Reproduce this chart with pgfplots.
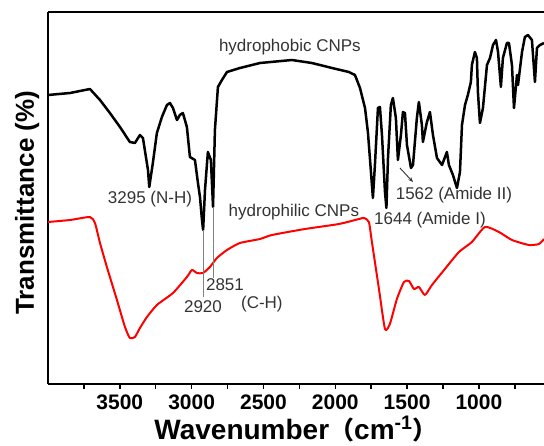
\documentclass[border=0pt]{standalone}
\usepackage{fontspec}
\setmainfont{Liberation Sans}
\newfontfamily\cjk{Noto Sans CJK SC}
\usepackage{pgfplots}
\pgfplotsset{compat=1.18}
\usetikzlibrary{calc,arrows.meta}

\begin{document}
\begin{tikzpicture}
\begin{axis}[
  width=496pt, height=372pt, scale only axis,
  xmin=547, xmax=4000, x dir=reverse, ymin=0, ymax=372,
  axis x line*=bottom, axis y line*=left,
  axis line style={line width=2pt},
  xtick={1000,1500,2000,2500,3000,3500},
  minor xtick={750,1250,1750,2250,2750,3250,3750},
  ytick=\empty,
  tick align=outside, major tick length=5pt, minor tick length=5pt,
  every tick/.style={line width=1.5pt, black},
  /pgf/number format/assume math mode=true,
  /pgf/number format/set thousands separator={},
  xticklabel style={font=\fontsize{21}{21}\selectfont\bfseries, anchor=base, yshift=-20pt},
  xlabel={Wavenumber{\cjk\bfseries\fontsize{25}{25}\selectfont （}cm\textsuperscript{-1}{\cjk\bfseries\fontsize{25}{25}\selectfont ）}},
  xlabel style={font=\fontsize{28}{28}\selectfont\bfseries, at={(axis description cs:0.5,0)}, anchor=base, yshift=-55pt},
  ylabel={Transmittance (\%)},
  ylabel style={font=\fontsize{26}{26}\selectfont\bfseries, at={(axis description cs:-0.042,0.487)}, anchor=center, rotate=0},
  line join=round,
]
\coordinate (LL) at (rel axis cs:0,0);
\coordinate (UR) at (rel axis cs:1,1);
\draw[line width=2pt] (rel axis cs:0,1) -- (rel axis cs:1,1);

% hydrophobic CNPs (black)
\addplot[black, line width=2.5pt] coordinates {
(4000,289) (3847,291) (3708,295) (3638,284) (3569,271) (3499,257) (3430,242)
(3395,241) (3360,249) (3339,246) (3304,214) (3295,197) (3270,221) (3242,251)
(3207,267) (3172,279) (3151,281) (3130,276) (3102,264) (3082,269) (3061,271)
(3033,257) (3012,227) (2977,224) (2956,201) (2942,187) (2928,164) (2920,154)
(2907,194) (2887,232) (2866,224) (2851,177) (2838,254) (2817,297) (2789,304)
(2754,312) (2664,316) (2524,321) (2302,324) (2163,321) (2023,316) (1905,312)
(1863,309) (1828,296) (1793,276) (1773,252) (1759,226) (1738,186) (1724,219)
(1703,276) (1689,277) (1675,249) (1654,192) (1644,176) (1633,226) (1613,279)
(1599,286) (1578,266) (1564,224) (1543,249) (1529,272) (1515,271) (1501,239)
(1473,216) (1459,219) (1432,266) (1418,282) (1397,259) (1390,242) (1362,262)
(1341,272) (1320,249) (1292,226) (1257,219) (1223,232) (1209,219) (1181,209)
(1153,196) (1132,212) (1118,259) (1097,279) (1077,289) (1056,302) (1049,319)
(1028,332) (1014,326) (1007,292) (993,261) (972,276) (944,319) (923,326)
(902,339) (881,344) (867,332) (847,297) (833,326) (805,341) (791,341)
(770,319) (756,276) (735,309) (728,299) (700,332) (680,347) (659,349)
(631,344) (610,302) (596,336) (575,339) (547,341)
};

% hydrophilic CNPs (red)
\addplot[red, line width=2pt, smooth, tension=0.35] coordinates {
(4000,162) (3847,164) (3708,167) (3673,161) (3638,141) (3590,117) (3520,84)
(3464,57) (3430,46) (3395,47) (3360,56) (3311,67) (3242,79) (3130,91)
(3033,107) (2998,114) (2963,111) (2921,111) (2873,117) (2824,126) (2754,134)
(2664,141) (2524,145) (2441,149) (2211,155) (1975,160) (1835,165) (1800,166)
(1766,162) (1745,142) (1696,95) (1654,55) (1620,60) (1571,85) (1522,102)
(1487,103) (1452,95) (1418,97) (1376,89) (1327,99) (1237,115) (1139,132)
(1049,142) (958,157) (861,152) (770,144) (652,139) (582,140) (547,145)
};

\draw[gray, line width=0.9pt] (axis cs:2920,154) -- (axis cs:2920,87);
\draw[gray, line width=0.9pt] (axis cs:2851,177) -- (axis cs:2851,106);
\draw[black!80, line width=0.9pt, -{Stealth[length=5pt,width=4pt]}] (axis cs:1550,216) -- (axis cs:1459,202);

\tikzset{lab/.style={font=\fontsize{17}{17}\selectfont, text=black!80, inner sep=0pt}}
\node[lab] at (axis cs:2316,337) {hydrophobic CNPs};
\node[lab] at (axis cs:3290,185) {3295 (N-H)};
\node[lab] at (axis cs:2288,172) {hydrophilic CNPs};
\node[lab] at (axis cs:1174,189) {1562 (Amide II)};
\node[lab] at (axis cs:1341,164) {1644 (Amide I)};
\node[lab] at (axis cs:2768,99) {2851};
\node[lab] at (axis cs:2921,77) {2920};
\node[lab] at (axis cs:2511,80) {(C-H)};
\end{axis}
\pgfresetboundingbox
\path ($(LL)+(-48pt,-61pt)$) rectangle ($(UR)+(0pt,12pt)$);
\end{tikzpicture}
\end{document}
